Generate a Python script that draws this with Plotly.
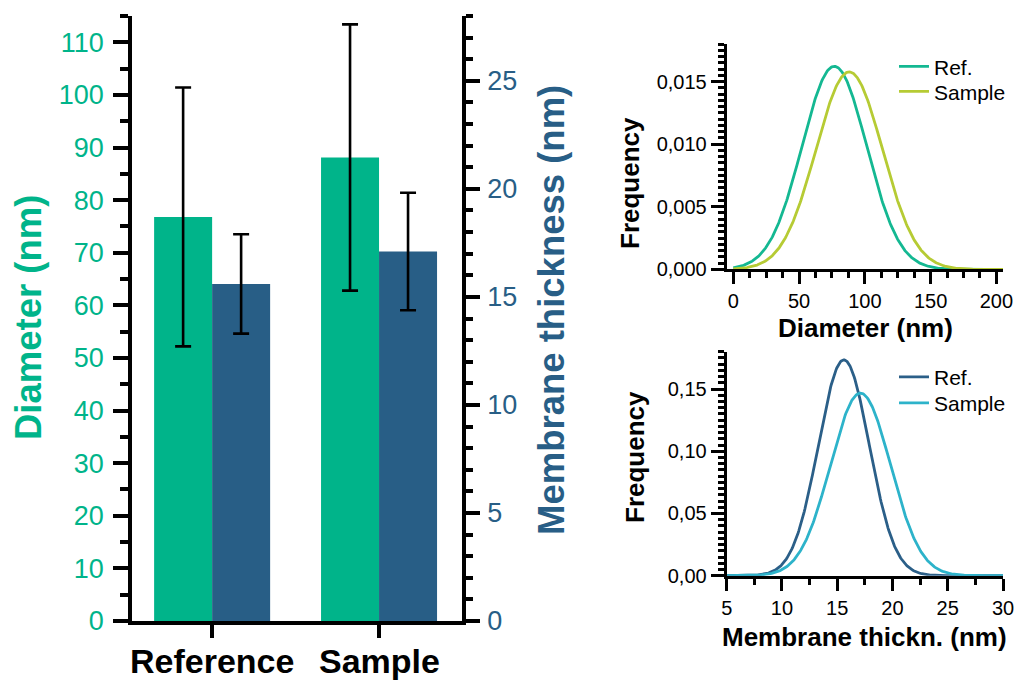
import numpy as np
import plotly.graph_objects as go

# Group labels and measured values (mean ± SD)
groups = ["Reference", "Sample"]
diameter_mean = [76.8, 88.1]
diameter_sd = [24.6, 25.3]
thickness_mean = [15.6, 17.1]
thickness_sd = [2.3, 2.72]

legend_names = ["Ref.", "Sample"]

GREEN = "#00B48A"
BLUE = "#285E86"
DIAM_COLORS = ["#14B892", "#B6CB34"]
THICK_COLORS = ["#2B5F88", "#2DB3CA"]
FONT = "Arial, Liberation Sans, sans-serif"


def normal_pdf(x, mu, sd):
    return np.exp(-0.5 * ((x - mu) / sd) ** 2) / (sd * np.sqrt(2 * np.pi))


fig = go.Figure()

# Left panel: grouped bars on twin y axes
fig.add_trace(go.Bar(
    x=[0, 1], y=diameter_mean, offsetgroup="d", marker_color=GREEN,
    marker_line_width=0, xaxis="x", yaxis="y", showlegend=False,
    error_y=dict(type="data", array=diameter_sd, color="black", thickness=2.6, width=8),
))
fig.add_trace(go.Bar(
    x=[0, 1], y=thickness_mean, offsetgroup="t", marker_color=BLUE,
    marker_line_width=0, xaxis="x", yaxis="y2", showlegend=False,
    error_y=dict(type="data", array=thickness_sd, color="black", thickness=2.6, width=8),
))

# Right panels: normal distributions built from the same mean/SD values;
# each curve gets its own legend box so the entries sit where wanted
xd = np.linspace(0, 205, 400)
for i, (name, mu, sd, col) in enumerate(zip(legend_names, diameter_mean, diameter_sd, DIAM_COLORS)):
    fig.add_trace(go.Scatter(
        x=xd, y=normal_pdf(xd, mu, sd), mode="lines", name=name,
        line=dict(color=col, width=2.8), xaxis="x2", yaxis="y3",
        legend="legend" if i == 0 else "legend2",
    ))

xt = np.linspace(5, 30, 400)
for i, (name, mu, sd, col) in enumerate(zip(legend_names, thickness_mean, thickness_sd, THICK_COLORS)):
    fig.add_trace(go.Scatter(
        x=xt, y=normal_pdf(xt, mu, sd), mode="lines", name=name,
        line=dict(color=col, width=2.8), xaxis="x3", yaxis="y4",
        legend="legend3" if i == 0 else "legend4",
    ))


def px_x(p):
    return p / 1016


def px_y(p):
    return 1 - p / 680


axis_common = dict(showgrid=False, zeroline=False, showline=True, linecolor="black",
                   ticks="outside", tickcolor="black", automargin=False)


def legend_at(ypx):
    return dict(x=px_x(894), y=px_y(ypx), xanchor="left", yanchor="middle",
                font=dict(size=21), bgcolor="rgba(0,0,0,0)")


fig.update_layout(
    width=1016, height=680,
    margin=dict(l=0, r=0, t=0, b=0, pad=0, autoexpand=False),
    paper_bgcolor="white", plot_bgcolor="white",
    font=dict(family=FONT, color="black"),
    separators=",.",
    barmode="group", bargap=0.305, bargroupgap=0,
    xaxis=dict(
        **axis_common, domain=[px_x(132), px_x(462)], anchor="y",
        range=[-0.48, 1.497], tickvals=[0, 1], showticklabels=False,
        linewidth=3.5, tickwidth=3.5, ticklen=13,
    ),
    yaxis=dict(
        **axis_common, domain=[px_y(621), px_y(16)], anchor="x",
        range=[0, 115], dtick=10, tick0=0, linewidth=3.5, tickwidth=3.5, ticklen=15,
        minor=dict(dtick=5, ticks="outside", ticklen=8, tickwidth=3.5, tickcolor="black"),
        tickfont=dict(size=27, color=GREEN), ticklabelstandoff=4,
    ),
    yaxis2=dict(
        **axis_common, overlaying="y", side="right", anchor="x",
        range=[0, 28], dtick=5, tick0=0, linewidth=3.5, tickwidth=3.5, ticklen=14,
        minor=dict(dtick=1, ticks="outside", ticklen=7, tickwidth=3.5, tickcolor="black"),
        tickfont=dict(size=27, color=BLUE), ticklabelstandoff=2,
    ),
    xaxis2=dict(
        **axis_common, domain=[px_x(726.7), px_x(1003)], anchor="y3",
        range=[-5, 205], dtick=50, tick0=0, linewidth=3, tickwidth=3, ticklen=12,
        minor=dict(dtick=12.5, ticks="outside", ticklen=6, tickwidth=3, tickcolor="black"),
        tickfont=dict(size=20),
    ),
    yaxis3=dict(
        **axis_common, domain=[px_y(269.3), px_y(44)], anchor="x2",
        range=[0, 0.018], dtick=0.005, tick0=0, tickformat=".3f",
        linewidth=3, tickwidth=3, ticklen=13,
        minor=dict(dtick=0.0005, ticks="outside", ticklen=6, tickwidth=3, tickcolor="black"),
        tickfont=dict(size=20),
    ),
    xaxis3=dict(
        **axis_common, domain=[px_x(726.7), px_x(1003)], anchor="y4",
        range=[5, 30], dtick=5, tick0=0, linewidth=3, tickwidth=3, ticklen=12,
        minor=dict(dtick=2.5, ticks="outside", ticklen=6, tickwidth=3, tickcolor="black"),
        tickfont=dict(size=20),
    ),
    yaxis4=dict(
        **axis_common, domain=[px_y(575.7), px_y(351.7)], anchor="x3",
        range=[0, 0.18], dtick=0.05, tick0=0, tickformat=".2f",
        linewidth=3, tickwidth=3, ticklen=13,
        minor=dict(dtick=0.005, ticks="outside", ticklen=6, tickwidth=3, tickcolor="black"),
        tickfont=dict(size=20),
    ),
    legend=legend_at(66.7),
    legend2=legend_at(91.7),
    legend3=legend_at(377.3),
    legend4=legend_at(403.3),
)

# Group names under the bar pairs
for i, g in enumerate(groups):
    fig.add_annotation(
        text=g, x=i, xref="x", y=0, yref="paper", xanchor="center", yanchor="bottom",
        yshift=-2, showarrow=False,
        font=dict(size=34, color="black", weight="bold", family=FONT),
    )

titles = [
    ("Diameter (nm)", 28, 318, 36.5, GREEN, -90),
    ("Membrane thickness (nm)", 552, 310, 36.5, BLUE, -90),
    ("Frequency", 630, 183, 26, "black", -90),
    ("Frequency", 635, 457, 26, "black", -90),
    ("Diameter (nm)", 865, 328, 26, "black", 0),
    ("Membrane thickn. (nm)", 864, 637, 26, "black", 0),
]
for text, x, y, size, color, angle in titles:
    fig.add_annotation(
        text=text, x=px_x(x), y=px_y(y), xref="paper", yref="paper",
        xanchor="center", yanchor="middle", showarrow=False, textangle=angle,
        font=dict(size=size, color=color, weight="bold", family=FONT),
    )

fig.write_html("out.html")
